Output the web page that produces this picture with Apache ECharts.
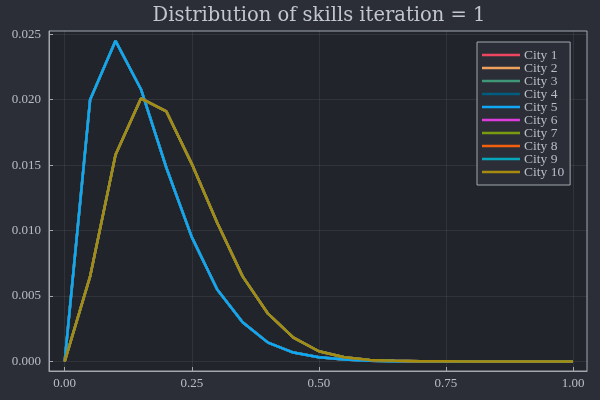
<!DOCTYPE html>
<html>
<head>
<meta charset="utf-8">
<script src="https://cdn.jsdelivr.net/npm/echarts@6/dist/echarts.min.js"></script>
<style>
  html, body { margin: 0; padding: 0; background: #2b2e37; }
  #chart { width: 600px; height: 400px; }
</style>
</head>
<body>
<div id="chart"></div>
<script>
const titleText = 'Distribution of skills iteration = 1';
const skillLevels = [0.00, 0.05, 0.10, 0.15, 0.20, 0.25, 0.30, 0.35, 0.40, 0.45, 0.50,
                     0.55, 0.60, 0.65, 0.70, 0.75, 0.80, 0.85, 0.90, 0.95, 1.00];
const densityA = [0, 0.0200, 0.0245, 0.0208, 0.0148, 0.0095, 0.0055, 0.0030, 0.00144, 0.00068, 0.00032,
                  0.00014, 0.00006, 0.00002, 0.00001, 0, 0, 0, 0, 0, 0];
const densityB = [0, 0.0065, 0.0158, 0.0201, 0.0191, 0.0151, 0.0106, 0.0065, 0.00365, 0.00182, 0.00078,
                  0.00032, 0.00012, 0.00005, 0.00002, 0.00001, 0, 0, 0, 0, 0];
const cityNames = ['City 1', 'City 2', 'City 3', 'City 4', 'City 5',
                   'City 6', 'City 7', 'City 8', 'City 9', 'City 10'];
const cityValues = [densityA, densityA, densityA, densityA, densityA,
                    densityB, densityB, densityB, densityB, densityB];
const cityColors = ['#ee4660', '#eca25c', '#3f9778', '#005d7f', '#10a8f4',
                    '#dc3ddc', '#7a9a10', '#f2600e', '#08a6bb', '#a68b0e'];
const xTicks = [0, 0.25, 0.5, 0.75, 1.0];
const yTicks = [0, 0.005, 0.010, 0.015, 0.020, 0.025];

const titleFont = 'DejaVu Serif';
const font = 'Liberation Serif';
const textColor = '#b9bdc5';

const series = cityNames.map((name, i) => ({
  name: name,
  type: 'line',
  data: skillLevels.map((x, j) => [x, cityValues[i][j]]),
  showSymbol: false,
  symbol: 'none',
  lineStyle: { width: 2.5, color: cityColors[i] },
  itemStyle: { color: cityColors[i] },
  animation: false
}));

const chart = echarts.init(document.getElementById('chart'));
chart.setOption({
  backgroundColor: '#2b2e37',
  animation: false,
  title: {
    text: titleText,
    left: 314, top: 1,
    textAlign: 'center',
    textStyle: { fontFamily: titleFont, fontSize: 19.5, fontWeight: 'normal', color: '#c3c6cd' }
  },
  legend: {
    orient: 'vertical',
    left: 477, top: 42,
    padding: [6, 6, 6, 5],
    backgroundColor: '#2b2e37',
    borderColor: '#a3a8b0',
    borderWidth: 1,
    itemWidth: 38,
    itemHeight: 2.5,
    itemGap: -1,
    icon: 'rect',
    textStyle: { fontFamily: font, fontSize: 13.5, color: textColor, padding: [0, 0, 0, -1] },
    data: cityNames
  },
  grid: {
    left: 49, right: 13, top: 31, bottom: 29,
    show: true,
    backgroundColor: '#21242b',
    borderColor: '#a3a8b0',
    borderWidth: 1,
    containLabel: false
  },
  xAxis: {
    type: 'value',
    min: -0.0309, max: 1.0275,
    axisLine: { show: true, onZero: false, lineStyle: { color: '#a3a8b0', width: 1 } },
    axisTick: { show: true, inside: true, length: 4, lineStyle: { color: '#a3a8b0' }, customValues: xTicks },
    axisLabel: {
      customValues: xTicks,
      fontFamily: font, fontSize: 13, color: textColor, margin: 6,
      formatter: v => v.toFixed(2)
    },
    splitLine: { show: true, lineStyle: { color: 'rgba(255,255,255,0.07)', width: 1 } }
  },
  yAxis: {
    type: 'value',
    min: -0.00073, max: 0.02525,
    axisLine: { show: true, onZero: false, lineStyle: { color: '#a3a8b0', width: 1 } },
    axisTick: { show: true, inside: true, length: 4, lineStyle: { color: '#a3a8b0' }, customValues: yTicks },
    axisLabel: {
      customValues: yTicks,
      fontFamily: font, fontSize: 13, color: textColor, margin: 8,
      formatter: v => v.toFixed(3)
    },
    splitLine: { show: true, lineStyle: { color: 'rgba(255,255,255,0.07)', width: 1 } }
  },
  series: series
});
</script>
</body>
</html>
